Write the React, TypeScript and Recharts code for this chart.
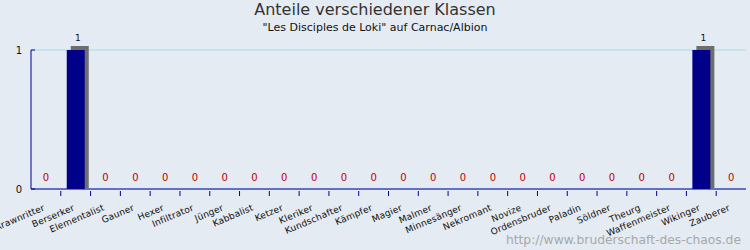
import React from 'react'
import { BarChart, Bar, XAxis, YAxis, CartesianGrid, LabelList } from 'recharts'

const klassen = [
  'Arawnritter', 'Berserker', 'Elementalist', 'Gauner', 'Hexer', 'Infiltrator',
  'Jünger', 'Kabbalist', 'Ketzer', 'Kleriker', 'Kundschafter', 'Kämpfer',
  'Magier', 'Malmer', 'Minnesänger', 'Nekromant', 'Novize', 'Ordensbruder',
  'Paladin', 'Söldner', 'Theurg', 'Waffenmeister', 'Wikinger', 'Zauberer'
]
const anzahl = [0, 1, 0, 0, 0, 0, 0, 0, 0, 0, 0, 0, 0, 0, 0, 0, 0, 0, 0, 0, 0, 0, 1, 0]
const yTicks = [0, 1]

const data = klassen.map((name, i) => ({ name, value: anzahl[i] }))

const W = 750
const H = 250
const margin = { top: 50, right: 4, left: 0, bottom: 0 }
const yAxisW = 31
const xAxisH = 61
const plotW = W - yAxisW - margin.right
const band = plotW / klassen.length
const axisColor = '#00009c'
const font = '"DejaVu Sans", Verdana, sans-serif'

const XTick = (props: any) => {
  const { x, y, payload, index } = props
  const last = index === klassen.length - 1
  const tx = x - 3
  const ty = y + 7
  return (
    <g>
      {!last && (
        <line x1={x + band / 2} x2={x + band / 2} y1={y - 1} y2={y - 6} stroke={axisColor} strokeWidth={1} />
      )}
      <text
        x={tx}
        y={ty}
        textAnchor="end"
        fontSize={9}
        fontFamily={font}
        fill="#111"
        transform={`rotate(-23 ${tx} ${ty})`}
        dominantBaseline="hanging"
        letterSpacing={0.2}
      >
        {payload.value}
      </text>
    </g>
  )
}

const YTick = (props: any) => {
  const { y, payload } = props
  return (
    <g>
      <line x1={yAxisW} x2={yAxisW + 4} y1={y} y2={y} stroke={axisColor} strokeWidth={1} />
      <text x={19} y={y} textAnchor="middle" dominantBaseline="central" fontSize={10} fontFamily={font} fill="#111">
        {payload.value}
      </text>
    </g>
  )
}

const Bar3D = (props: any) => {
  const { x, y, width, height } = props
  if (!height || height <= 0) return null
  const d = 4
  return (
    <g>
      <rect x={x + d} y={y - d} width={width} height={height + d - 1} fill="#6e6e6e" />
      <rect x={x} y={y} width={width} height={height} fill="#000088" />
    </g>
  )
}

const ValueLabel = (props: any) => {
  const { x, y, width, value } = props
  const zero = value === 0
  return (
    <text
      x={x + width / 2 + (zero ? 0 : 2)}
      y={zero ? y - 8 : y - 9}
      textAnchor="middle"
      fontSize={zero ? 10 : 9}
      fontFamily={font}
      fill={zero ? '#c00000' : '#111'}
    >
      {value}
    </text>
  )
}

export default function App() {
  return (
    <div style={{ position: 'absolute', left: 0, top: 0, width: W, height: H, background: '#e5ebf2', overflow: 'hidden' }}>
      <div style={{ position: 'absolute', top: 0, width: W, textAlign: 'center', fontFamily: font, fontSize: 16, color: '#333' }}>
        Anteile verschiedener Klassen
      </div>
      <div style={{ position: 'absolute', top: 21, width: W, textAlign: 'center', fontFamily: font, fontSize: 11, color: '#111' }}>
        "Les Disciples de Loki" auf Carnac/Albion
      </div>
      <BarChart width={W} height={H} data={data} margin={margin} barCategoryGap="20%">
        <CartesianGrid horizontal vertical={false} stroke="#a6dbe8" />
        <XAxis
          dataKey="name"
          interval={0}
          height={xAxisH}
          tick={<XTick />}
          tickLine={false}
          axisLine={{ stroke: axisColor, strokeWidth: 1 }}
        />
        <YAxis
          width={yAxisW}
          domain={[0, 1]}
          ticks={yTicks}
          tick={<YTick />}
          tickLine={false}
          axisLine={{ stroke: axisColor, strokeWidth: 1 }}
        />
        <Bar dataKey="value" shape={<Bar3D />} isAnimationActive={false}>
          <LabelList dataKey="value" content={<ValueLabel />} />
        </Bar>
      </BarChart>
      <div style={{ position: 'absolute', right: 9, bottom: 3, fontFamily: font, fontSize: 12.3, color: '#a8a8a8' }}>
        http://www.bruderschaft-des-chaos.de
      </div>
    </div>
  )
}
